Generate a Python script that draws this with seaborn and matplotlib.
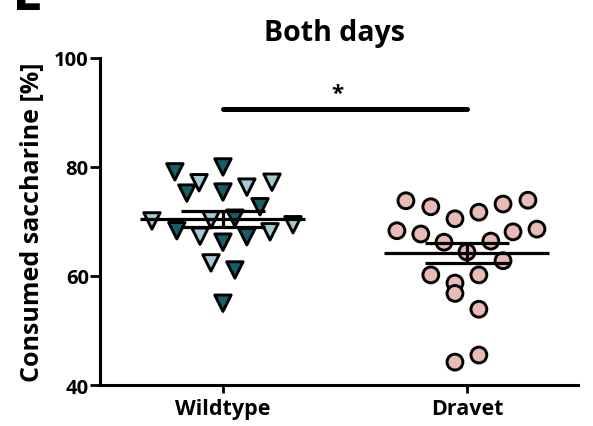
import numpy as np
import pandas as pd
import matplotlib
matplotlib.use("Agg")
import matplotlib.pyplot as plt
import seaborn as sns

# Consumed saccharine (%) per animal, averaged over both days
groups = ["Wildtype", "Dravet"]

wt_values = [79.1, 77.1, 75.2, 80.0, 75.4, 70.1, 68.3, 67.3, 70.3, 66.2,
             76.3, 77.2, 72.7, 70.6, 69.4, 68.1, 67.2, 62.4, 61.1, 55.0]
wt_shade = ["dark", "light", "dark", "dark", "dark", "light", "dark", "light", "light", "dark",
            "light", "light", "dark", "dark", "light", "light", "dark", "light", "dark", "dark"]
wt_offsets = [-0.197, -0.098, -0.148, 0.0, 0.0, -0.291, -0.189, -0.094, -0.049, 0.0,
              0.098, 0.201, 0.152, 0.049, 0.287, 0.193, 0.098, -0.049, 0.049, 0.0]

dr_values = [73.8, 72.7, 70.5, 71.7, 68.3, 67.7, 66.2, 64.4, 66.4, 60.2, 58.7,
             56.8, 60.2, 73.2, 73.9, 68.1, 68.6, 62.8, 53.9, 45.5, 44.2]
dr_offsets = [-0.25, -0.148, -0.049, 0.049, -0.287, -0.189, -0.094, 0.0, 0.098, -0.148, -0.049,
              -0.049, 0.049, 0.148, 0.25, 0.189, 0.287, 0.148, 0.049, 0.049, -0.049]

y_ticks = [40, 60, 80, 100]
sig_label = "*"

sns.set_theme(style="ticks")
plt.rcParams["font.family"] = ["Open Sans", "DejaVu Sans"]
plt.rcParams["font.weight"] = "bold"
plt.rcParams["text.color"] = "black"
plt.rcParams["axes.labelcolor"] = "black"

wt = pd.DataFrame({"group": 0, "x": np.array(wt_offsets), "value": wt_values, "shade": wt_shade})
dr = pd.DataFrame({"group": 1, "x": 1 + np.array(dr_offsets), "value": dr_values, "shade": "pink"})

fig = plt.figure(figsize=(5.93, 4.27), dpi=100)
ax = fig.add_axes([0.1686, 0.096, 0.806, 0.766])

edge_kw = dict(edgecolor="black", linewidth=2.1, zorder=3)
sns.scatterplot(data=wt, x="x", y="value", hue="shade", marker="v", s=140,
                palette={"dark": "#155f67", "light": "#a4cad1"}, legend=False, ax=ax, **edge_kw)
sns.scatterplot(data=dr, x="x", y="value", hue="shade", marker="o", s=130,
                palette={"pink": "#e8bbb7"}, legend=False, ax=ax, **edge_kw)

# mean and SEM bars
for gi, vals in enumerate([wt_values, dr_values]):
    v = np.asarray(vals)
    m = v.mean()
    sem = v.std(ddof=1) / np.sqrt(len(v))
    ax.hlines(m, gi - 0.338, gi + 0.338, color="black", lw=2.3, zorder=4)
    ax.hlines([m - sem, m + sem], gi - 0.172, gi + 0.172, color="black", lw=2.3, zorder=4)
    ax.vlines(gi, m - sem, m + sem, color="black", lw=2.3, zorder=4)

# significance bracket
ax.plot([0, 1], [90.6, 90.6], color="black", lw=3.6, solid_capstyle="round", zorder=4)
ax.text(0.467, 91.6, sig_label, ha="center", va="bottom", fontsize=16, fontweight="bold")

ax.set_xlim(-0.504, 1.455)
ax.set_ylim(40, 100)
ax.set_yticks(y_ticks)
ax.set_xticks([0, 1])
ax.set_xticklabels(groups)
ax.set_xlabel("")
ax.set_ylabel("")
for lab in ax.get_xticklabels() + ax.get_yticklabels():
    lab.set_fontweight("bold")
ax.tick_params(axis="y", length=7, width=2.0, pad=1.0, labelsize=14.5, colors="black")
ax.tick_params(axis="x", length=6, width=2.0, pad=3, labelsize=15.5, colors="black")
sns.despine(ax=ax)
for sp in ["left", "bottom"]:
    ax.spines[sp].set_linewidth(2.2)
    ax.spines[sp].set_color("black")

fig.text(0.054, 0.479, "Consumed saccharine [%]", rotation=90, ha="center", va="center",
         fontsize=18, fontweight="bold")
fig.text(0.564, 0.922, "Both days", ha="center", va="center", fontsize=20.5, fontweight="bold")
fig.text(0.02, 0.977, "E", ha="left", va="baseline", fontsize=40, fontweight="bold")

fig.savefig("out.png", dpi=100)
